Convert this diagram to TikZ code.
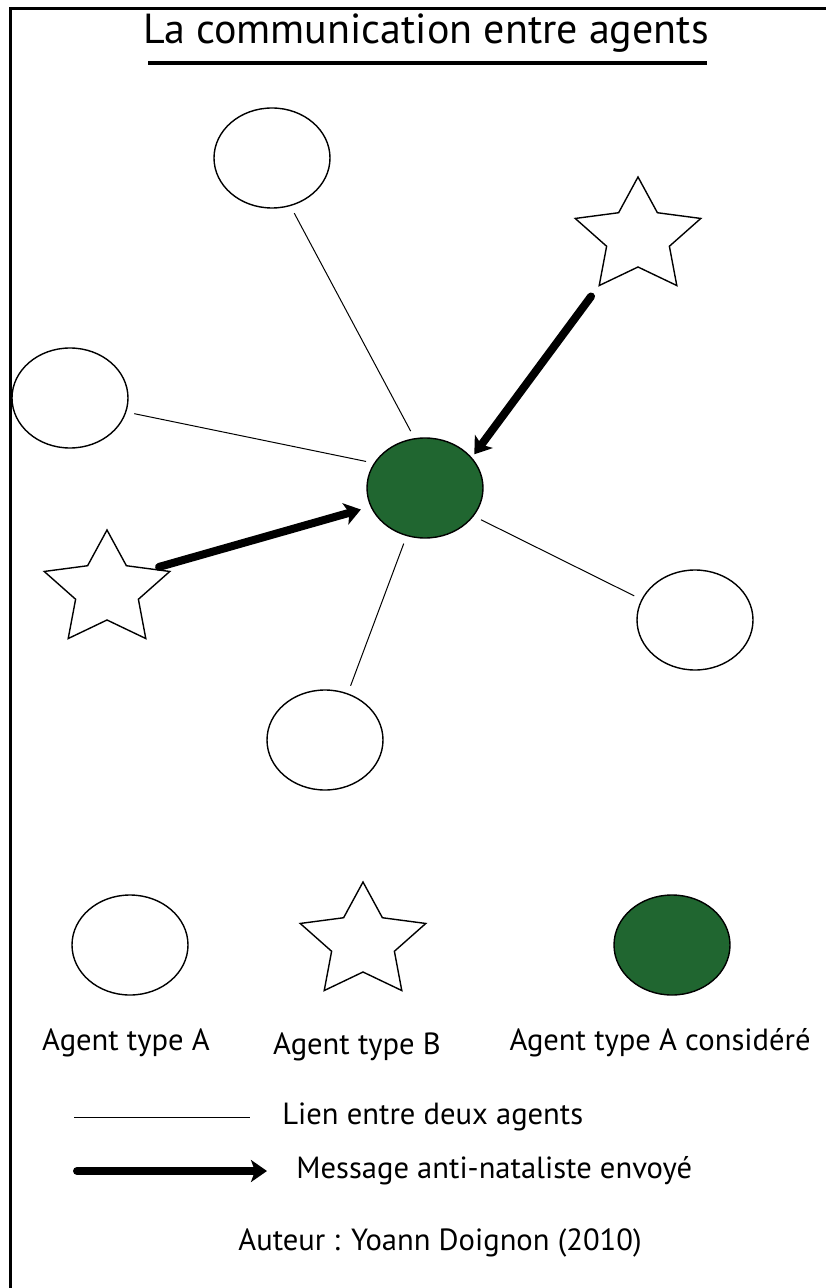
\documentclass[tikz,border=0pt]{standalone}
\usepackage{fontspec}
\setmainfont{PT Sans}
\usetikzlibrary{shapes.geometric,arrows.meta}
\definecolor{agentgreen}{RGB}{32,102,48}
\tikzset{
  agentA/.style={ellipse, draw, line width=0.7pt, fill=white, minimum width=58pt, minimum height=50pt, inner sep=0pt},
  agentC/.style={agentA, fill=agentgreen},
  agentB/.style={star, star points=5, star point ratio=2, draw, line width=0.7pt, fill=white, minimum size=60pt, inner sep=0pt, xscale=1.1},
  link/.style={line width=0.5pt, shorten <=4pt, shorten >=4pt},
  message/.style={line width=4pt, line cap=round, -{Stealth[length=8pt,width=11pt,inset=2pt]}},
  legende/.style={font=\fontsize{15.3}{18}\selectfont, inner sep=0pt},
}
\begin{document}
\begin{tikzpicture}[x=0.5pt, y=-0.5pt]
  \useasboundingbox (0,0) rectangle (826,1288);
  % cadre
  \draw[line width=1.5pt] (10,1288) -- (10,9) -- (826,9);
  % titre
  \node[font=\fontsize{21}{24}\selectfont] (titre) at (426,33) {La communication entre agents};
  \draw[line width=2pt] (148,63) -- (707,63);

  % agents
  \node[agentC] (agent) at (425,488) {};
  \node[agentA] (a1) at (272,158) {};
  \node[agentA] (a2) at (70,398) {};
  \node[agentA] (a3) at (695,620) {};
  \node[agentA] (a4) at (325,740) {};
  \node[agentB] (b1) at (638,237) {};
  \node[agentB] (b2) at (107,590) {};

  % liens
  \draw[link] (a1.-69) -- (agent.102);
  \draw[link] (a2.-14) -- (agent.154);
  \draw[link] (agent.-30) -- (a3.159);
  \draw[link] (agent.-111) -- (a4.64);

  % messages
  \draw[message, shorten <=6pt, shorten >=2pt] (b1.outer point 3) -- (agent.33);
  \draw[message, shorten <=3pt, shorten >=5pt] (b2.27) -- (agent.199);

  % legende
  \node[agentA] (la) at (130,945) {};
  \node[agentB] (lb) at (363,942) {};
  \node[agentC] (lc) at (672,945) {};
  \node[legende] (ta) at (126,1043) {Agent type A};
  \node[legende] (tb) at (357,1047) {Agent type B};
  \node[legende] (tc) at (660,1043) {Agent type A considéré};

  \coordinate (l1) at (74,1117);
  \coordinate (l2) at (250,1117);
  \draw[link, shorten <=0pt, shorten >=0pt] (l1) -- (l2);
  \node[legende, anchor=west] (tl) at (282,1117) {Lien entre deux agents};

  \coordinate (m1) at (77,1171);
  \coordinate (m2) at (267,1171);
  \draw[message] (m1) -- (m2);
  \node[legende, anchor=west] (tm) at (296,1171) {Message anti-nataliste envoyé};

  \node[legende] (auteur) at (440,1243) {Auteur : Yoann Doignon (2010)};
\end{tikzpicture}
\end{document}
